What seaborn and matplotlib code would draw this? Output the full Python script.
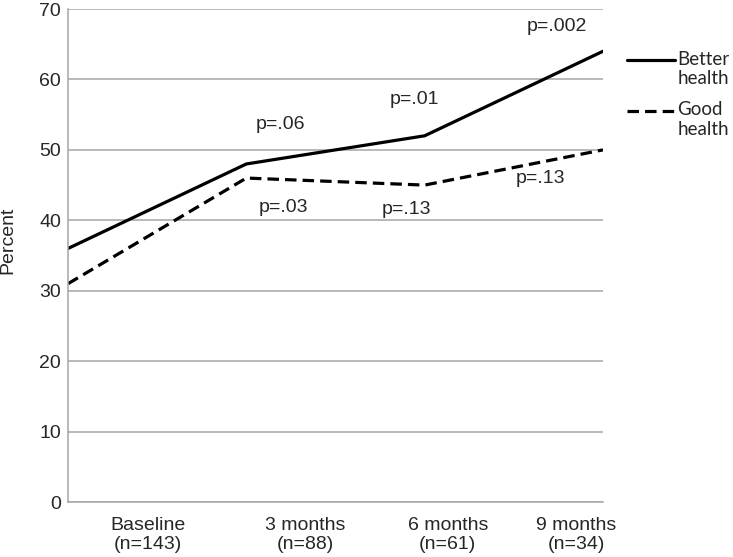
import matplotlib
matplotlib.use("Agg")
import matplotlib.pyplot as plt
import numpy as np
import pandas as pd
import seaborn as sns

# ---------------------------------------------------------------------------
# Data
# ---------------------------------------------------------------------------
timepoints = ["Baseline\n(n=143)", "3 months\n(n=88)", "6 months\n(n=61)", "9 months\n(n=34)"]
better_health = [36, 48, 52, 64]
good_health = [31, 46, 45, 50]
series_names = ["Better health", "Good health"]
legend_labels = ["Better\nhealth", "Good\nhealth"]

p_better = ["p=.06", "p=.01", "p=.002"]
p_good = ["p=.03", "p=.13", "p=.13"]

y_ticks = [0, 10, 20, 30, 40, 50, 60, 70]

df = pd.DataFrame({
    "x": list(range(len(timepoints))) * 2,
    "Percent": better_health + good_health,
    "series": [series_names[0]] * len(timepoints) + [series_names[1]] * len(timepoints),
})

# ---------------------------------------------------------------------------
# Plot
# ---------------------------------------------------------------------------
sns.set_style("white")
plt.rcParams["font.family"] = ["Liberation Sans", "DejaVu Sans"]
FS = 14
GREY = "#a6a6a6"

fig = plt.figure(figsize=(7.33, 5.57), dpi=100)
ax = fig.add_axes([0.0928, 0.0987, 0.7298, 0.8851])

sns.lineplot(
    data=df, x="x", y="Percent", style="series", ax=ax,
    color="black", linewidth=2.3,
    dashes={"Better health": "", "Good health": (3.6, 1.9)},
)

ax.set_xlim(0, len(timepoints) - 1)
ax.set_ylim(0, 70)
ax.set_yticks(y_ticks)
ax.set_yticklabels([str(t) for t in y_ticks], fontsize=FS)
ax.tick_params(axis="y", length=4, width=1.1, color=GREY, pad=1)
ax.grid(axis="y", color=GREY, linewidth=1.1)
ax.set_axisbelow(True)

# category labels sit off the data points in the original
label_pos = [0.45, 1.33, 2.13, 2.85]
ax.set_xticks(label_pos)
ax.set_xticklabels(timepoints, fontsize=FS, linespacing=1.15)
ax.tick_params(axis="x", length=0, pad=11)
ax.set_xlabel("")
ax.set_ylabel("Percent", fontsize=FS)
ax.yaxis.set_label_coords(-0.097, 0.53)

for side in ["top", "right"]:
    ax.spines[side].set_visible(False)
for side in ["left", "bottom"]:
    ax.spines[side].set_color(GREY)
    ax.spines[side].set_linewidth(1.1)

# p-value annotations (positions in data units)
better_pos = [(1.19, 53.6), (1.94, 57.1), (2.74, 67.5)]
good_pos = [(1.21, 41.8), (1.90, 41.6), (2.65, 45.9)]
for (px, py), txt in zip(better_pos, p_better):
    ax.text(px, py, txt, fontsize=FS, ha="center", va="center")
for (px, py), txt in zip(good_pos, p_good):
    ax.text(px, py, txt, fontsize=FS, ha="center", va="center")

handles, _ = ax.get_legend_handles_labels()
leg = ax.legend(
    handles[-2:], legend_labels, loc="upper left", bbox_to_anchor=(1.03, 0.931),
    borderaxespad=0, frameon=False, handlelength=2.6, handleheight=1.75,
    handletextpad=0.12, labelspacing=0.75, prop={"family": "Lato", "size": 13.5},
)
# line up each legend handle with the first line of its label
for line in leg.get_lines():
    line.set_ydata(np.asarray(line.get_ydata()) + 4.5)

fig.savefig("out.png", dpi=100)
